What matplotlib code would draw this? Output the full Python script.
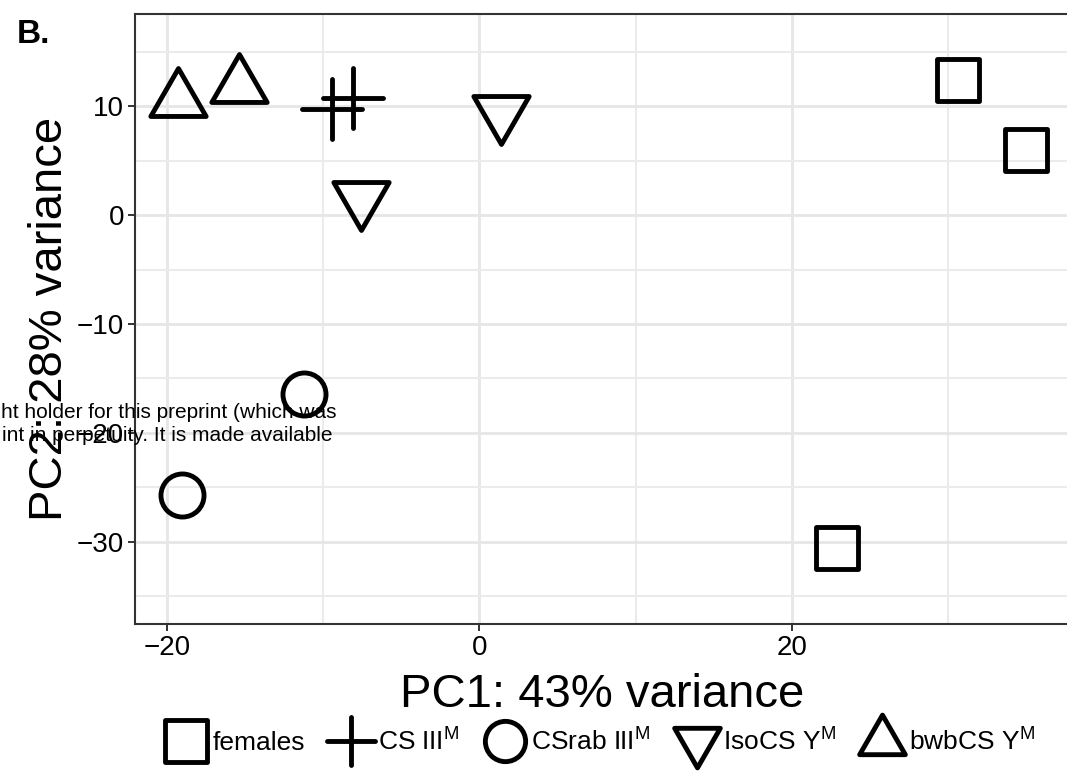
import matplotlib
matplotlib.use("Agg")
import matplotlib.pyplot as plt
from matplotlib.path import Path
from matplotlib.markers import MarkerStyle
from matplotlib.lines import Line2D
from matplotlib.ticker import MultipleLocator

plt.rcParams['font.family'] = ['Liberation Sans', 'DejaVu Sans']
plt.rcParams['mathtext.fontset'] = 'custom'
plt.rcParams['mathtext.rm'] = 'Liberation Sans'

# PCA scores
groups = ['females', 'CS III$^{\\mathrm{M}}$', 'CSrab III$^{\\mathrm{M}}$',
          'IsoCS Y$^{\\mathrm{M}}$', 'bwbCS Y$^{\\mathrm{M}}$']
pc1 = [[30.6, 35.0, 22.9],
       [-9.4, -8.1],
       [-11.2, -19.0],
       [1.4, -7.6],
       [-19.3, -15.4]]
pc2 = [[12.4, 6.0, -30.6],
       [9.8, 10.8],
       [-16.4, -25.7],
       [9.5, 1.6],
       [10.6, 11.9]]

W, H = 1067, 774
fig = plt.figure(figsize=(W / 100, H / 100), dpi=100)
fig.set_facecolor('white')
ax = fig.add_axes([135 / W, 1 - 623.7 / H, (1069 - 135) / W, (623.7 - 14) / H])

# triangles centred on their centroid, like R's pch 2 / 6
tri_up = Path([(0, 1), (-0.866, -0.5), (0.866, -0.5), (0, 1)], closed=True)
tri_dn = Path([(0, -1), (-0.866, 0.5), (0.866, 0.5), (0, -1)], closed=True)
markers = [MarkerStyle('s', joinstyle='round'),
           MarkerStyle('+', capstyle='round'),
           MarkerStyle('o'),
           MarkerStyle(tri_dn, joinstyle='round'),
           MarkerStyle(tri_up, joinstyle='round')]
sizes = [30, 43, 31, 46, 46]
leg_sizes = [30, 34, 29, 38, 38]
lw = 3.5

for x, y, m, s in zip(pc1, pc2, markers, sizes):
    ax.plot(x, y, linestyle='none', marker=m, markersize=s,
            markerfacecolor='none', markeredgecolor='black',
            markeredgewidth=lw, zorder=3)

ax.set_xlim(-22.03, 37.73)
ax.set_ylim(-37.54, 18.5)
ax.xaxis.set_major_locator(MultipleLocator(20))
ax.xaxis.set_minor_locator(MultipleLocator(10))
ax.yaxis.set_major_locator(MultipleLocator(10))
ax.yaxis.set_minor_locator(MultipleLocator(5))
ax.grid(which='major', color='#e6e6e6', linewidth=2.0)
ax.grid(which='minor', color='#ebebeb', linewidth=1.5)
ax.set_axisbelow(True)
ax.tick_params(which='major', length=5, width=1.4, color='#333333',
               labelsize=20, labelcolor='black', pad=3)
ax.tick_params(which='minor', length=0)
for side in ['left', 'bottom', 'top']:
    ax.spines[side].set_color('#333333')
    ax.spines[side].set_linewidth(1.5)
ax.spines['right'].set_visible(False)

ax.set_xlabel('PC1: 43% variance', fontsize=34, labelpad=9)
ax.set_ylabel('PC2: 28% variance', fontsize=34, labelpad=3)

fig.text(17 / W, 1 - 43 / H, 'B.', fontsize=24, fontweight='bold',
         ha='left', va='baseline')

handles = [Line2D([], [], linestyle='none', marker=m, markersize=s,
                  markerfacecolor='none', markeredgecolor='black',
                  markeredgewidth=lw)
           for m, s in zip(markers, leg_sizes)]
fig.legend(handles, groups, loc='center left', ncol=5, frameon=False,
           bbox_to_anchor=(173 / W, 1 - 741 / H), borderaxespad=0,
           borderpad=0, fontsize=19, handlelength=1.0, handletextpad=0.5,
           columnspacing=1.25)

# overlapping preprint notice
fig.text(1 / W, 1 - 418 / H, 'ht holder for this preprint (which was',
         fontsize=15, ha='left', va='baseline', zorder=10)
fig.text(2 / W, 1 - 441 / H, 'int in perpetuity. It is made available',
         fontsize=15, ha='left', va='baseline', zorder=10)

fig.savefig('out.png', dpi=100, facecolor='white')
